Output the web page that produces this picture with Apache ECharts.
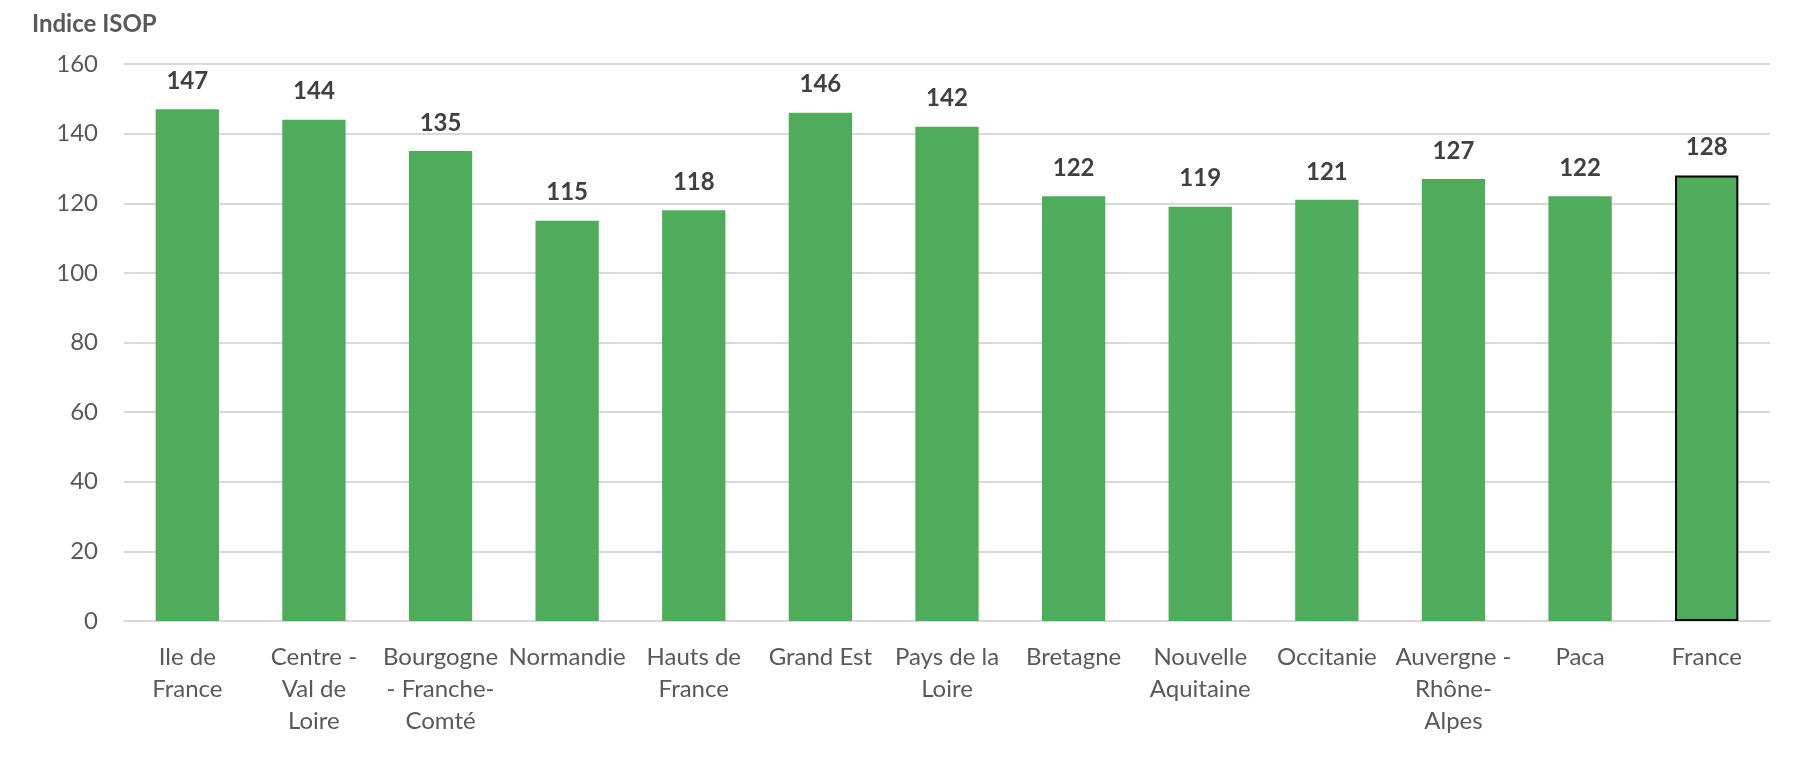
<!DOCTYPE html>
<html>
<head>
<meta charset="utf-8">
<script src="https://cdn.jsdelivr.net/npm/echarts@6/dist/echarts.min.js"></script>
<style>
  html, body { margin: 0; padding: 0; background: #fff; }
  #main { width: 1816px; height: 758px; }
</style>
</head>
<body>
<div id="main"></div>
<script>
// regions (x axis)
var regions = ['Ile de\nFrance', 'Centre -\nVal de\nLoire', 'Bourgogne\n- Franche-\nComté', 'Normandie',
  'Hauts de\nFrance', 'Grand Est', 'Pays de la\nLoire', 'Bretagne', 'Nouvelle\nAquitaine',
  'Occitanie', 'Auvergne -\nRhône-\nAlpes', 'Paca', 'France']
// indice ISOP
var isop = [147, 144, 135, 115, 118, 146, 142, 122, 119, 121, 127, 122, 128]
var yTicks = [0, 20, 40, 60, 80, 100, 120, 140, 160]

var font = 'Lato, "Open Sans", sans-serif'
var green = '#4EAC5B'

var chart = echarts.init(document.getElementById('main'))

var barData = isop.map(function(v, i) {
  if (regions[i] === 'France') {
    return { value: v, itemStyle: { color: green, borderColor: '#000', borderWidth: 2 } }
  }
  return v
})

chart.setOption({
  animation: false,
  title: {
    text: 'Indice ISOP',
    left: 27,
    top: 7,
    textStyle: { fontFamily: font, fontSize: 24, fontWeight: 'bold', color: '#595959' }
  },
  grid: {
    left: 124,
    right: 46,
    top: 64,
    bottom: 137
  },
  xAxis: {
    type: 'category',
    data: regions,
    axisLine: { show: true, lineStyle: { color: '#d9d9d9', width: 2 } },
    axisTick: { show: false },
    axisLabel: {
      interval: 0,
      margin: 20,
      fontFamily: font,
      fontSize: 24,
      lineHeight: 32,
      color: '#595959'
    }
  },
  yAxis: {
    type: 'value',
    min: yTicks[0],
    max: yTicks[yTicks.length - 1],
    interval: 20,
    axisLine: { show: false },
    axisTick: { show: false },
    splitLine: { lineStyle: { color: '#d9d9d9', width: 2 } },
    axisLabel: {
      margin: 26,
      fontFamily: font,
      fontSize: 24,
      color: '#595959'
    }
  },
  series: [{
    type: 'bar',
    data: barData,
    barCategoryGap: '50%',
    itemStyle: { color: green },
    label: {
      show: true,
      position: 'top',
      distance: 16,
      fontFamily: font,
      fontSize: 24,
      fontWeight: 'bold',
      color: '#404040'
    }
  }]
})
</script>
</body>
</html>
